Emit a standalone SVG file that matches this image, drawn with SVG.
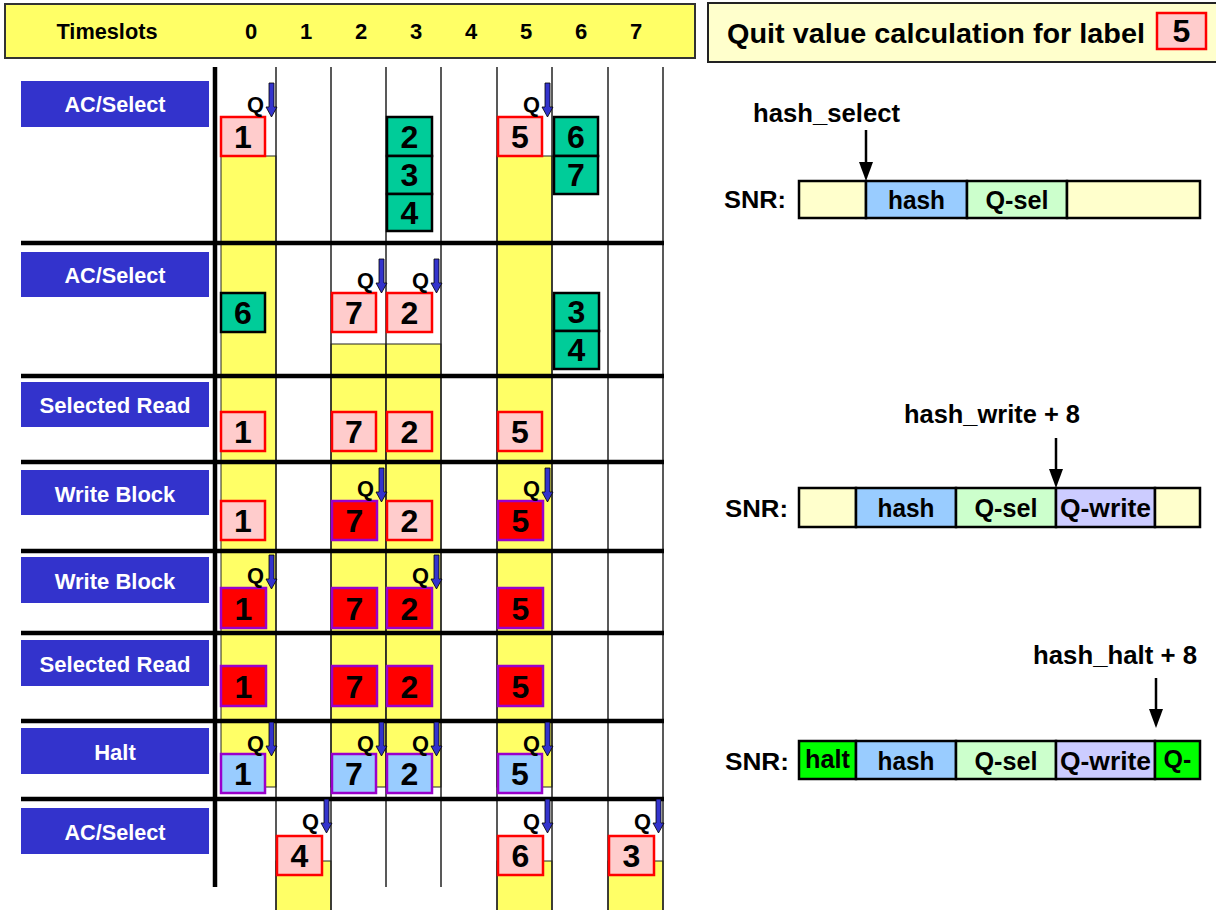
<svg xmlns="http://www.w3.org/2000/svg" width="1216" height="910" viewBox="0 0 1216 910">
<style>
text{font-family:"Liberation Sans",Arial,sans-serif;font-weight:bold}
.hdr{font-size:22px;fill:#000;text-anchor:middle}
.lbl{fill:#3333CC}
.lt{font-size:22px;fill:#fff;text-anchor:middle}
.yl{fill:#FFFF66;stroke:#222;stroke-width:1}
.vl{stroke:#222;stroke-width:1.5}
.tk{stroke:#000;stroke-width:4.5}
.pk{fill:#FFCCCC;stroke:#FF0000;stroke-width:2.5}
.gr{fill:#00CC99;stroke:#000;stroke-width:2.5}
.rd{fill:#FF0000;stroke:#9900CC;stroke-width:2.5}
.bl{fill:#99CCFF;stroke:#9900CC;stroke-width:2.5}
.n{font-size:32px;fill:#000;text-anchor:middle}
.q{font-size:22px;fill:#000;text-anchor:end}
.qa{fill:#3333CC;stroke:#000;stroke-width:0.8}
.seg{stroke:#000;stroke-width:2.5}
.st{font-size:25px;fill:#000;text-anchor:middle}
.big{font-size:25px;fill:#000}
.ar{stroke:#000;stroke-width:2.5}
</style>
<defs>
<path id="qarr" d="M-7,-34 L-2,-34 L-2,-10 L1,-10 L-4.5,0 L-10,-10 L-7,-10 Z"/>
</defs>

<g id="header">
<rect x="5" y="4" width="690" height="54" fill="#FFFF66" stroke="#333" stroke-width="2"/>
<text x="107" y="39" class="hdr" textLength="101" lengthAdjust="spacingAndGlyphs">Timeslots</text>
<text x="251" y="39" class="hdr">0</text>
<text x="306" y="39" class="hdr">1</text>
<text x="361" y="39" class="hdr">2</text>
<text x="416" y="39" class="hdr">3</text>
<text x="471" y="39" class="hdr">4</text>
<text x="526" y="39" class="hdr">5</text>
<text x="581" y="39" class="hdr">6</text>
<text x="636" y="39" class="hdr">7</text>
</g>

<g id="highlights">
<rect class="yl" x="221" y="156" width="55" height="631"/>
<rect class="yl" x="497" y="156" width="55" height="631"/>
<rect class="yl" x="331" y="344" width="55" height="443"/>
<rect class="yl" x="386" y="344" width="55" height="443"/>
<rect class="yl" x="276" y="861" width="55" height="52"/>
<rect class="yl" x="497" y="861" width="55" height="52"/>
<rect class="yl" x="608" y="861" width="55" height="52"/>
</g>

<g id="grid">
<line class="vl" x1="276" y1="67" x2="276" y2="910"/>
<line class="vl" x1="331" y1="67" x2="331" y2="910"/>
<line class="vl" x1="386" y1="67" x2="386" y2="887"/>
<line class="vl" x1="441" y1="67" x2="441" y2="887"/>
<line class="vl" x1="497" y1="67" x2="497" y2="910"/>
<line class="vl" x1="552" y1="67" x2="552" y2="910"/>
<line class="vl" x1="608" y1="67" x2="608" y2="910"/>
<line class="vl" x1="663" y1="67" x2="663" y2="910"/>
<line class="tk" x1="215" y1="67" x2="215" y2="887"/>
<line class="tk" x1="21" y1="243" x2="664" y2="243"/>
<line class="tk" x1="21" y1="376" x2="664" y2="376"/>
<line class="tk" x1="21" y1="462" x2="664" y2="462"/>
<line class="tk" x1="21" y1="551" x2="664" y2="551"/>
<line class="tk" x1="21" y1="633" x2="664" y2="633"/>
<line class="tk" x1="21" y1="721" x2="664" y2="721"/>
<line class="tk" x1="21" y1="799" x2="664" y2="799"/>
</g>

<g id="row-labels">
<g id="label-1"><rect class="lbl" x="21" y="81" width="188" height="46"/><text class="lt" x="115" y="112" textLength="101" lengthAdjust="spacingAndGlyphs">AC/Select</text></g>
<g id="label-2"><rect class="lbl" x="21" y="252" width="188" height="45"/><text class="lt" x="115" y="283" textLength="101" lengthAdjust="spacingAndGlyphs">AC/Select</text></g>
<g id="label-3"><rect class="lbl" x="21" y="382" width="188" height="45"/><text class="lt" x="115" y="413" textLength="151" lengthAdjust="spacingAndGlyphs">Selected Read</text></g>
<g id="label-4"><rect class="lbl" x="21" y="470" width="188" height="45"/><text class="lt" x="115" y="502">Write Block</text></g>
<g id="label-5"><rect class="lbl" x="21" y="557" width="188" height="46"/><text class="lt" x="115" y="589">Write Block</text></g>
<g id="label-6"><rect class="lbl" x="21" y="640" width="188" height="46"/><text class="lt" x="115" y="672" textLength="151" lengthAdjust="spacingAndGlyphs">Selected Read</text></g>
<g id="label-7"><rect class="lbl" x="21" y="728" width="188" height="46"/><text class="lt" x="115" y="760">Halt</text></g>
<g id="label-8"><rect class="lbl" x="21" y="808" width="188" height="46"/><text class="lt" x="115" y="840" textLength="101" lengthAdjust="spacingAndGlyphs">AC/Select</text></g>
</g>

<g id="row1">
<g id="r1-1"><rect class="pk" x="221" y="117" width="44" height="39"/><text class="n" x="243" y="148">1</text></g>
<g id="r1-2"><rect class="gr" x="387" y="117" width="45" height="39"/><text class="n" x="409.5" y="148">2</text></g>
<g id="r1-3"><rect class="gr" x="387" y="156" width="45" height="38"/><text class="n" x="409.5" y="186">3</text></g>
<g id="r1-4"><rect class="gr" x="387" y="194" width="45" height="37"/><text class="n" x="409.5" y="224">4</text></g>
<g id="r1-5"><rect class="pk" x="498" y="117" width="44" height="39"/><text class="n" x="520" y="148">5</text></g>
<g id="r1-6"><rect class="gr" x="554" y="117" width="44" height="39"/><text class="n" x="576" y="148">6</text></g>
<g id="r1-7"><rect class="gr" x="554" y="156" width="44" height="38"/><text class="n" x="576" y="186">7</text></g>
</g>

<g id="row2">
<g id="r2-6"><rect class="gr" x="221" y="293" width="44" height="39"/><text class="n" x="243" y="324">6</text></g>
<g id="r2-7"><rect class="pk" x="332" y="293" width="44" height="39"/><text class="n" x="354" y="324">7</text></g>
<g id="r2-2"><rect class="pk" x="387" y="293" width="45" height="39"/><text class="n" x="409.5" y="324">2</text></g>
<g id="r2-3"><rect class="gr" x="554" y="293" width="45" height="38"/><text class="n" x="576.5" y="323">3</text></g>
<g id="r2-4"><rect class="gr" x="554" y="331" width="45" height="38"/><text class="n" x="576.5" y="361">4</text></g>
</g>

<g id="row3">
<g id="r3-1"><rect class="pk" x="221" y="412" width="44" height="39"/><text class="n" x="243" y="443">1</text></g>
<g id="r3-7"><rect class="pk" x="332" y="412" width="44" height="39"/><text class="n" x="354" y="443">7</text></g>
<g id="r3-2"><rect class="pk" x="387" y="412" width="45" height="39"/><text class="n" x="409.5" y="443">2</text></g>
<g id="r3-5"><rect class="pk" x="498" y="412" width="44" height="39"/><text class="n" x="520" y="443">5</text></g>
</g>

<g id="row4">
<g id="r4-1"><rect class="pk" x="221" y="501" width="44" height="39"/><text class="n" x="243" y="532">1</text></g>
<g id="r4-7"><rect class="rd" x="332" y="501" width="45" height="39"/><text class="n" x="354.5" y="532">7</text></g>
<g id="r4-2"><rect class="pk" x="387" y="501" width="45" height="39"/><text class="n" x="409.5" y="532">2</text></g>
<g id="r4-5"><rect class="rd" x="498" y="501" width="45" height="39"/><text class="n" x="520.5" y="532">5</text></g>
</g>

<g id="row5">
<g id="r5-1"><rect class="rd" x="221" y="588" width="45" height="40"/><text class="n" x="243.5" y="620">1</text></g>
<g id="r5-7"><rect class="rd" x="332" y="588" width="45" height="40"/><text class="n" x="354.5" y="620">7</text></g>
<g id="r5-2"><rect class="rd" x="387" y="588" width="45" height="40"/><text class="n" x="409.5" y="620">2</text></g>
<g id="r5-5"><rect class="rd" x="498" y="588" width="45" height="40"/><text class="n" x="520.5" y="620">5</text></g>
</g>

<g id="row6">
<g id="r6-1"><rect class="rd" x="221" y="666" width="45" height="40"/><text class="n" x="243.5" y="698">1</text></g>
<g id="r6-7"><rect class="rd" x="332" y="666" width="45" height="40"/><text class="n" x="354.5" y="698">7</text></g>
<g id="r6-2"><rect class="rd" x="387" y="666" width="45" height="40"/><text class="n" x="409.5" y="698">2</text></g>
<g id="r6-5"><rect class="rd" x="498" y="666" width="45" height="40"/><text class="n" x="520.5" y="698">5</text></g>
</g>

<g id="row7">
<g id="r7-1"><rect class="bl" x="221" y="754" width="44" height="39"/><text class="n" x="243" y="785">1</text></g>
<g id="r7-7"><rect class="bl" x="332" y="754" width="44" height="39"/><text class="n" x="354" y="785">7</text></g>
<g id="r7-2"><rect class="bl" x="387" y="754" width="45" height="39"/><text class="n" x="409.5" y="785">2</text></g>
<g id="r7-5"><rect class="bl" x="498" y="754" width="44" height="39"/><text class="n" x="520" y="785">5</text></g>
</g>

<g id="row8">
<g id="r8-4"><rect class="pk" x="277" y="836" width="45" height="39"/><text class="n" x="299.5" y="867">4</text></g>
<g id="r8-6"><rect class="pk" x="498" y="836" width="45" height="39"/><text class="n" x="520.5" y="867">6</text></g>
<g id="r8-3"><rect class="pk" x="609" y="836" width="45" height="39"/><text class="n" x="631.5" y="867">3</text></g>
</g>

<g id="connectors">
<g id="q-markers">
<text class="q" x="264" y="112" textLength="17" lengthAdjust="spacingAndGlyphs">Q</text><use href="#qarr" class="qa" transform="translate(276,117)"/>
<text class="q" x="540" y="112" textLength="17" lengthAdjust="spacingAndGlyphs">Q</text><use href="#qarr" class="qa" transform="translate(552,117)"/>
<text class="q" x="374" y="288" textLength="17" lengthAdjust="spacingAndGlyphs">Q</text><use href="#qarr" class="qa" transform="translate(386,293)"/>
<text class="q" x="429" y="288" textLength="17" lengthAdjust="spacingAndGlyphs">Q</text><use href="#qarr" class="qa" transform="translate(441,293)"/>
<text class="q" x="374" y="496" textLength="17" lengthAdjust="spacingAndGlyphs">Q</text><use href="#qarr" class="qa" transform="translate(386,502)"/>
<text class="q" x="540" y="496" textLength="17" lengthAdjust="spacingAndGlyphs">Q</text><use href="#qarr" class="qa" transform="translate(552,502)"/>
<text class="q" x="264" y="583" textLength="17" lengthAdjust="spacingAndGlyphs">Q</text><use href="#qarr" class="qa" transform="translate(276,589)"/>
<text class="q" x="429" y="583" textLength="17" lengthAdjust="spacingAndGlyphs">Q</text><use href="#qarr" class="qa" transform="translate(441,589)"/>
<text class="q" x="264" y="751" textLength="17" lengthAdjust="spacingAndGlyphs">Q</text><use href="#qarr" class="qa" transform="translate(276,756)"/>
<text class="q" x="374" y="751" textLength="17" lengthAdjust="spacingAndGlyphs">Q</text><use href="#qarr" class="qa" transform="translate(386,756)"/>
<text class="q" x="429" y="751" textLength="17" lengthAdjust="spacingAndGlyphs">Q</text><use href="#qarr" class="qa" transform="translate(441,756)"/>
<text class="q" x="540" y="751" textLength="17" lengthAdjust="spacingAndGlyphs">Q</text><use href="#qarr" class="qa" transform="translate(552,756)"/>
<text class="q" x="319" y="829" textLength="17" lengthAdjust="spacingAndGlyphs">Q</text><use href="#qarr" class="qa" transform="translate(331,833)"/>
<text class="q" x="540" y="829" textLength="17" lengthAdjust="spacingAndGlyphs">Q</text><use href="#qarr" class="qa" transform="translate(552,833)"/>
<text class="q" x="651" y="829" textLength="17" lengthAdjust="spacingAndGlyphs">Q</text><use href="#qarr" class="qa" transform="translate(663,833)"/>
</g>
<g id="pointer-arrows">
<line class="ar" x1="866" y1="130" x2="866" y2="164"/><polygon points="859,162 873,162 866,181"/>
<line class="ar" x1="1056" y1="438" x2="1056" y2="471"/><polygon points="1049,469 1063,469 1056,488"/>
<line class="ar" x1="1156" y1="678" x2="1156" y2="711"/><polygon points="1149,709 1163,709 1156,728"/>
</g>
</g>

<g id="title">
<rect x="708" y="3" width="516" height="59" fill="#FFFFCC" stroke="#222" stroke-width="2"/>
<text x="727" y="43" font-size="27" textLength="418" lengthAdjust="spacingAndGlyphs">Quit value calculation for label</text>
<rect class="pk" x="1157" y="13" width="49" height="36"/>
<text class="n" x="1181.5" y="42" font-size="29">5</text>
</g>

<g id="snr-select">
<text class="big" x="753" y="122" textLength="147" lengthAdjust="spacingAndGlyphs">hash_select</text>
<text x="724" y="208" font-size="24" textLength="62" lengthAdjust="spacingAndGlyphs">SNR:</text>
<rect class="seg" x="799" y="181" width="67" height="37" fill="#FFFFCC"/>
<rect class="seg" x="866" y="181" width="101" height="37" fill="#99CCFF"/>
<rect class="seg" x="967" y="181" width="100" height="37" fill="#CCFFCC"/>
<rect class="seg" x="1067" y="181" width="133" height="37" fill="#FFFFCC"/>
<text class="st" x="916.5" y="209" textLength="57" lengthAdjust="spacingAndGlyphs">hash</text>
<text class="st" x="1017" y="209" textLength="63" lengthAdjust="spacingAndGlyphs">Q-sel</text>
</g>

<g id="snr-write">
<text class="big" x="904" y="423" textLength="176" lengthAdjust="spacingAndGlyphs">hash_write + 8</text>
<text x="725" y="517" font-size="24" textLength="63" lengthAdjust="spacingAndGlyphs">SNR:</text>
<rect class="seg" x="799" y="488" width="57" height="39" fill="#FFFFCC"/>
<rect class="seg" x="856" y="488" width="100" height="39" fill="#99CCFF"/>
<rect class="seg" x="956" y="488" width="100" height="39" fill="#CCFFCC"/>
<rect class="seg" x="1056" y="488" width="99" height="39" fill="#CCCCFF"/>
<rect class="seg" x="1155" y="488" width="45" height="39" fill="#FFFFCC"/>
<text class="st" x="906" y="517" textLength="57" lengthAdjust="spacingAndGlyphs">hash</text>
<text class="st" x="1006" y="517" textLength="63" lengthAdjust="spacingAndGlyphs">Q-sel</text>
<text class="st" x="1105.5" y="517" textLength="91" lengthAdjust="spacingAndGlyphs">Q-write</text>
</g>

<g id="snr-halt">
<text class="big" x="1033" y="664" textLength="164" lengthAdjust="spacingAndGlyphs">hash_halt + 8</text>
<text x="725" y="770" font-size="24" textLength="64" lengthAdjust="spacingAndGlyphs">SNR:</text>
<rect class="seg" x="799" y="741" width="57" height="38" fill="#00FF00"/>
<rect class="seg" x="856" y="741" width="100" height="38" fill="#99CCFF"/>
<rect class="seg" x="956" y="741" width="100" height="38" fill="#CCFFCC"/>
<rect class="seg" x="1056" y="741" width="99" height="38" fill="#CCCCFF"/>
<rect class="seg" x="1155" y="741" width="45" height="38" fill="#00FF00"/>
<text class="st" x="827.5" y="768" font-size="18" textLength="45" lengthAdjust="spacingAndGlyphs">halt</text>
<text class="st" x="906" y="770" textLength="57" lengthAdjust="spacingAndGlyphs">hash</text>
<text class="st" x="1006" y="770" textLength="63" lengthAdjust="spacingAndGlyphs">Q-sel</text>
<text class="st" x="1105.5" y="770" textLength="91" lengthAdjust="spacingAndGlyphs">Q-write</text>
<text class="st" x="1177.5" y="768" font-size="18">Q-</text>
</g>
</svg>
